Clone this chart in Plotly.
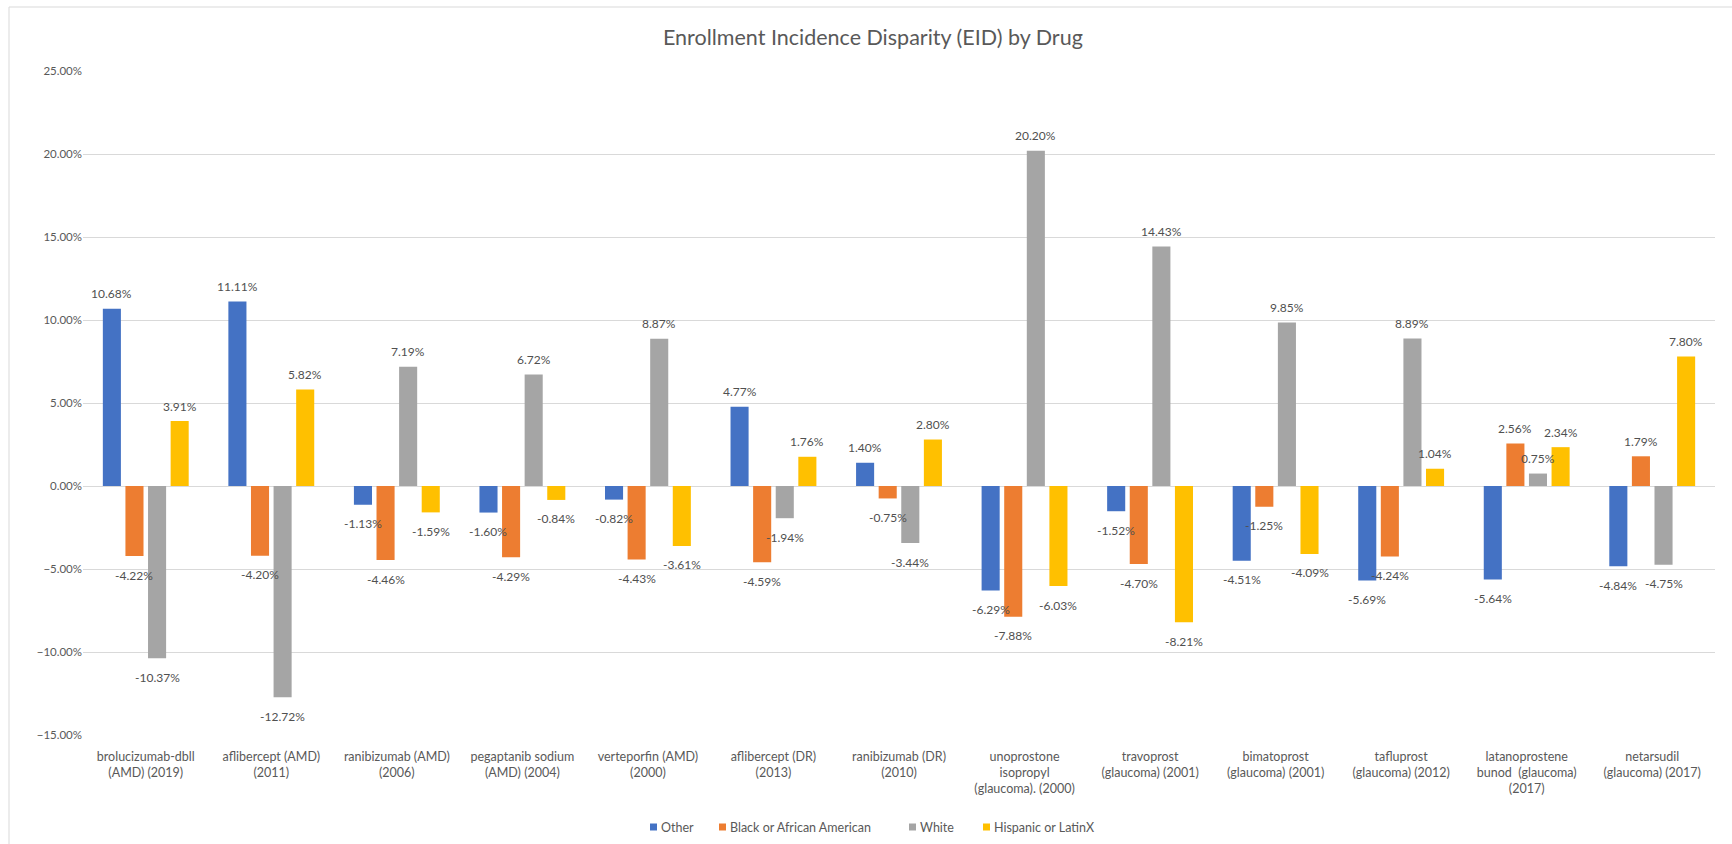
import plotly.graph_objects as go

drugs = [
    "brolucizumab-dbll<br>(AMD) (2019)",
    "aflibercept (AMD)<br>(2011)",
    "ranibizumab (AMD)<br>(2006)",
    "pegaptanib sodium<br>(AMD) (2004)",
    "verteporfin (AMD)<br>(2000)",
    "aflibercept (DR)<br>(2013)",
    "ranibizumab (DR)<br>(2010)",
    "unoprostone<br>isopropyl<br>(glaucoma). (2000)",
    "travoprost<br>(glaucoma) (2001)",
    "bimatoprost<br>(glaucoma) (2001)",
    "tafluprost<br>(glaucoma) (2012)",
    "latanoprostene<br>bunod  (glaucoma)<br>(2017)",
    "netarsudil<br>(glaucoma) (2017)",
]

other = [10.68, 11.11, -1.13, -1.60, -0.82, 4.77, 1.40, -6.29, -1.52, -4.51, -5.69, -5.64, -4.84]
black = [-4.22, -4.20, -4.46, -4.29, -4.43, -4.59, -0.75, -7.88, -4.70, -1.25, -4.24, 2.56, 1.79]
white = [-10.37, -12.72, 7.19, 6.72, 8.87, -1.94, -3.44, 20.20, 14.43, 9.85, 8.89, 0.75, -4.75]
hispanic = [3.91, 5.82, -1.59, -0.84, -3.61, 1.76, 2.80, -6.03, -8.21, -4.09, 1.04, 2.34, 7.80]

series_names = ["Other", "Black or African American", "White", "Hispanic or LatinX"]
series_values = [other, black, white, hispanic]
series_colors = ["#4472C4", "#ED7D31", "#A5A5A5", "#FFC000"]

FONT = "Lato, 'Open Sans', sans-serif"
TEXT_GRAY = "#595959"
LABEL_GRAY = "#505050"

W, H = 1732, 844
ml, mr, mt, mb = 83, 17, 71, 109
pw, ph = W - ml - mr, H - mt - mb
BARGAP = 0.28


def px_to_paper_x(px):
    return (px - ml) / pw


def px_to_paper_y(py):
    return (H - mb - py) / ph


fig = go.Figure()
annotations = []
n_series = len(series_names)
slot = (1 - BARGAP) / n_series

for k, (name, vals, color) in enumerate(zip(series_names, series_values, series_colors)):
    fracs = [v / 100 for v in vals]
    fig.add_trace(go.Bar(
        name=name,
        x=drugs,
        y=fracs,
        marker=dict(color=color, line=dict(width=0)),
        showlegend=False,
        hovertemplate="%{x}<br>" + name + ": %{y:.2%}<extra></extra>",
    ))
    # value labels above positive bars / below negative bars
    offset = -(1 - BARGAP) / 2 + (k + 0.5) * slot
    for i, v in enumerate(vals):
        annotations.append(dict(
            x=i + offset, y=v / 100, xref="x", yref="y",
            text=f"{v:.2f}%",
            showarrow=False,
            xanchor="center", yanchor="middle",
            yshift=15 if v >= 0 else -19,
            borderpad=0,
            font=dict(family=FONT, size=12, color=LABEL_GRAY),
        ))

# legend: colour square followed by the series name
legend_x = [650, 719, 909, 983]
legend_y = 827
shapes = []
for name, color, lx in zip(series_names, series_colors, legend_x):
    shapes.append(dict(
        type="rect", xref="paper", yref="paper",
        x0=px_to_paper_x(lx), x1=px_to_paper_x(lx + 7),
        y0=px_to_paper_y(legend_y + 3.5), y1=px_to_paper_y(legend_y - 3.5),
        line=dict(width=0), fillcolor=color,
    ))
    annotations.append(dict(
        x=px_to_paper_x(lx + 10), y=px_to_paper_y(legend_y),
        xref="paper", yref="paper",
        text=name, showarrow=False,
        xanchor="left", yanchor="middle", borderpad=0,
        font=dict(family=FONT, size=12.5, color=TEXT_GRAY),
    ))

# chart frame
shapes.append(dict(
    type="rect", xref="paper", yref="paper",
    x0=px_to_paper_x(9), x1=px_to_paper_x(1740),
    y0=px_to_paper_y(850), y1=px_to_paper_y(7),
    line=dict(color="#D9D9D9", width=1),
    fillcolor="rgba(0,0,0,0)",
    layer="below",
))

fig.update_layout(
    width=W,
    height=H,
    margin=dict(l=ml, r=mr, t=mt, b=mb, autoexpand=False),
    paper_bgcolor="white",
    plot_bgcolor="white",
    barmode="group",
    bargap=BARGAP,
    bargroupgap=0.2,
    showlegend=False,
    font=dict(family=FONT, size=12, color=TEXT_GRAY),
    title=dict(
        text="Enrollment Incidence Disparity (EID) by Drug",
        x=0.504, xref="container", xanchor="center",
        y=1 - 37 / H, yref="container", yanchor="middle",
        font=dict(family=FONT, size=21.5, color=TEXT_GRAY),
    ),
    xaxis=dict(
        showgrid=False,
        showline=False,
        ticks="",
        ticklabelstandoff=12,
        tickfont=dict(family=FONT, size=12.5, color=TEXT_GRAY),
        tickangle=0,
    ),
    yaxis=dict(
        range=[-0.15, 0.25],
        dtick=0.05,
        tick0=0,
        tickformat=".2%",
        showgrid=True,
        gridcolor="#D9D9D9",
        gridwidth=1,
        zeroline=True,
        zerolinecolor="#D9D9D9",
        zerolinewidth=1,
        showline=False,
        ticks="",
        tickfont=dict(family=FONT, size=11.5, color=TEXT_GRAY),
    ),
    annotations=annotations,
    shapes=shapes,
)

fig.write_html("out.html")
